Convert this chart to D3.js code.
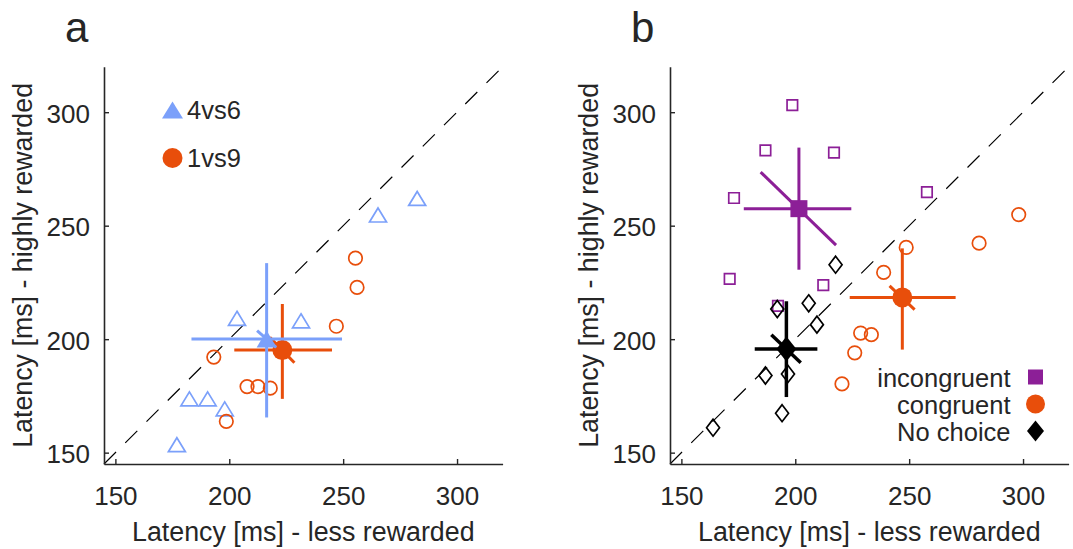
<!DOCTYPE html>
<html><head><meta charset="utf-8">
<script src="https://cdn.jsdelivr.net/npm/d3@7"></script>
<style>
body{margin:0;background:#fff}
svg{display:block}
text{font-family:"Liberation Sans",Arial,Helvetica,sans-serif;fill:#262626}
</style>
</head><body>
<svg id="c" width="1073" height="549"></svg>
<script>
// ---------- data ----------
const tickValues = [150, 200, 250, 300];
const axisDomain = [145, 320];
const xTitle = "Latency [ms] - less rewarded";
const yTitle = "Latency [ms] - highly rewarded";

// panel a : 4vs6 (triangles)
const a46X = [177, 182.5, 190.5, 198, 203.4, 231.5, 265.3, 282.5];
const a46Y = [153.5, 173.7, 173.7, 169.3, 209.2, 208.1, 254.7, 262];
const a46Mean = [216.4, 200.1];
const a46XErr = [183.4, 249.5];
const a46YErr = [165.5, 233.5];
const a46Diag = [[212.2, 203.8], [220.6, 196.4]];

// panel a : 1vs9 (circles)
const a19X = [193.2, 198.7, 207.8, 212.6, 218, 247, 255.4, 256.1];
const a19Y = [192.1, 163.8, 179.1, 179.1, 178.4, 205.7, 235.7, 222.8];
const a19Mean = [223.3, 195.2];
const a19XErr = [202.2, 245.1];
const a19YErr = [173.7, 215.5];
const a19Diag = [[217.8, 200.8], [228.6, 189.6]];

// panel b : incongruent (squares)
const incX = [198.7, 186.9, 217, 173.1, 257.8, 171.2, 212.3, 192.4];
const incY = [303.1, 283.2, 282.2, 262.2, 264.8, 226.6, 223.8, 214.7];
const incMean = [201.6, 257.5];
const incXErr = [177.4, 224.6];
const incYErr = [230.6, 284.4];
const incDiag = [[184.8, 273.6], [217.9, 241.4]];

// panel b : congruent (circles)
const conX = [248.7, 238.8, 280.7, 298.1, 228.7, 233.4, 226.1, 220.5];
const conY = [240.4, 229.4, 242.3, 254.9, 202.7, 202, 194, 180.3];
const conMean = [247, 218.4];
const conXErr = [223.9, 270.4];
const conYErr = [195.4, 240];
const conDiag = [[241.4, 223.5], [252.4, 213]];

// panel b : no choice (diamonds)
const ncX = [163.9, 186.9, 196.8, 194.2, 192.1, 205.9, 209.5, 217.7];
const ncY = [161, 184, 184.7, 167.4, 213.3, 215.8, 206.4, 232.8];
const ncMean = [196.1, 195.7];
const ncXErr = [182.2, 209.7];
const ncYErr = [174.5, 216.7];
const ncDiag = [[189.5, 201.9], [202.4, 189.6]];

const legendA = ["4vs6", "1vs9"];
const legendB = ["incongruent", "congruent", "No choice"];

// ---------- styles ----------
const C_BLUE = "#7ba0fa", C_ORANGE = "#e84e0b", C_PURPLE = "#8c1f97", C_BLACK = "#000";
const AX = "#262626";
const FONT = '"Liberation Sans",Arial,Helvetica,sans-serif';

const svg = d3.select("#c");

function shapePath(type, w, h) {
  if (type === "tri") return `M0,${-h/2}L${w/2},${h/2}L${-w/2},${h/2}Z`;
  if (type === "sq") return `M${-w/2},${-h/2}H${w/2}V${h/2}H${-w/2}Z`;
  if (type === "dia") return `M0,${-h/2}L${w/2},0L0,${h/2}L${-w/2},0Z`;
  if (type === "circ") { const r = w/2; return `M${r},0A${r},${r} 0 1,1 ${-r},0A${r},${r} 0 1,1 ${r},0Z`; }
}
const openSize = {tri:[17,14], circ:[13.5,13.5], sq:[10.5,10.5], dia:[13,17]};
const meanSize = {tri:[20,17], circ:[20,20], sq:[17,17], dia:[20,25]};

function panel(left, letter) {
  const x = d3.scaleLinear().domain(axisDomain).range([left, left + 398.6]);
  const y = d3.scaleLinear().domain(axisDomain).range([464, 66.8]);
  const g = svg.append("g");
  g.append("line").attr("x1", x(axisDomain[0])).attr("y1", y(axisDomain[0]))
    .attr("x2", x(axisDomain[1])).attr("y2", y(axisDomain[1]))
    .attr("stroke", "#000").attr("stroke-width", 1.2).attr("stroke-dasharray", "17,13");
  const xa = g.append("g").attr("transform", `translate(0,464)`)
    .call(d3.axisBottom(x).tickValues(tickValues).tickSize(-5).tickPadding(23).tickSizeOuter(0));
  const ya = g.append("g").attr("transform", `translate(${left},0)`)
    .call(d3.axisLeft(y).tickValues(tickValues).tickSize(-5).tickPadding(14).tickSizeOuter(0));
  [xa, ya].forEach(a => {
    a.select(".domain").attr("stroke", AX).attr("stroke-width", 1.6);
    a.selectAll(".tick line").attr("stroke", AX).attr("stroke-width", 1.4);
    a.selectAll(".tick text").attr("font-size", 26).attr("fill", AX).style("font-family", FONT);
  });
  xa.selectAll(".tick text").attr("dy", "0.71em");
  ya.selectAll(".tick text").attr("dy", "0.38em");
  g.append("text").attr("x", (x.range()[0] + x.range()[1]) / 2).attr("y", 541)
    .attr("text-anchor", "middle").attr("font-size", 26.8).text(xTitle);
  g.append("text").attr("transform", `translate(${left - 72},${(464 + 66.8) / 2}) rotate(-90)`)
    .attr("text-anchor", "middle").attr("font-size", 26.8).text(yTitle);
  g.append("text").attr("x", left - 39).attr("y", 42).attr("font-size", 42).attr("fill", "#000").text(letter);
  return {g, x, y};
}

function openMarkers(P, xs, ys, type, color) {
  const [w, h] = openSize[type];
  P.g.append("g").selectAll("path").data(xs.map((v, i) => [v, ys[i]])).join("path")
    .attr("transform", d => `translate(${P.x(d[0])},${P.y(d[1])})`)
    .attr("d", shapePath(type, w, h))
    .attr("fill", "none").attr("stroke", color).attr("stroke-width", 1.7);
}

function meanMarker(P, mean, xErr, yErr, diag, type, color, lw) {
  const g = P.g.append("g").attr("stroke", color).attr("stroke-width", lw);
  g.append("line").attr("x1", P.x(xErr[0])).attr("x2", P.x(xErr[1])).attr("y1", P.y(mean[1])).attr("y2", P.y(mean[1]));
  g.append("line").attr("x1", P.x(mean[0])).attr("x2", P.x(mean[0])).attr("y1", P.y(yErr[0])).attr("y2", P.y(yErr[1]));
  g.append("line").attr("x1", P.x(diag[0][0])).attr("y1", P.y(diag[0][1])).attr("x2", P.x(diag[1][0])).attr("y2", P.y(diag[1][1]));
  const [w, h] = meanSize[type];
  P.g.append("path").attr("transform", `translate(${P.x(mean[0])},${P.y(mean[1])})`)
    .attr("d", shapePath(type, w, h)).attr("fill", color).attr("stroke", "none");
}

// ---------- panel a ----------
const A = panel(104, "a");
openMarkers(A, a46X, a46Y, "tri", C_BLUE);
openMarkers(A, a19X, a19Y, "circ", C_ORANGE);
meanMarker(A, a19Mean, a19XErr, a19YErr, a19Diag, "circ", C_ORANGE, 3);
meanMarker(A, a46Mean, a46XErr, a46YErr, a46Diag, "tri", C_BLUE, 3);

const legAColors = [C_BLUE, C_ORANGE], legATypes = ["tri", "circ"], legASizes = [[21,17],[20,20]];
const legAY = [110, 158];
legendA.forEach((t, i) => {
  A.g.append("path").attr("transform", `translate(172.5,${legAY[i]})`)
    .attr("d", shapePath(legATypes[i], ...legASizes[i])).attr("fill", legAColors[i]);
  A.g.append("text").attr("x", 187).attr("y", legAY[i]).attr("dy", "0.36em")
    .attr("font-size", 25.5).attr("fill", "#000").text(t);
});

// ---------- panel b ----------
const B = panel(670, "b");
openMarkers(B, incX, incY, "sq", C_PURPLE);
openMarkers(B, conX, conY, "circ", C_ORANGE);
openMarkers(B, ncX, ncY, "dia", C_BLACK);
meanMarker(B, incMean, incXErr, incYErr, incDiag, "sq", C_PURPLE, 3);
meanMarker(B, conMean, conXErr, conYErr, conDiag, "circ", C_ORANGE, 3);
meanMarker(B, ncMean, ncXErr, ncYErr, ncDiag, "dia", C_BLACK, 3.5);

const legBColors = [C_PURPLE, C_ORANGE, C_BLACK], legBTypes = ["sq", "circ", "dia"], legBSizes = [[15,15],[19,19],[17,21]];
const legBY = [377, 404, 431];
legendB.forEach((t, i) => {
  B.g.append("path").attr("transform", `translate(1035.5,${legBY[i]})`)
    .attr("d", shapePath(legBTypes[i], ...legBSizes[i])).attr("fill", legBColors[i]);
  B.g.append("text").attr("x", 1010.5).attr("y", legBY[i] + 9.5).attr("text-anchor", "end")
    .attr("font-size", 25.5).attr("fill", "#000").text(t);
});
</script>
</body></html>
